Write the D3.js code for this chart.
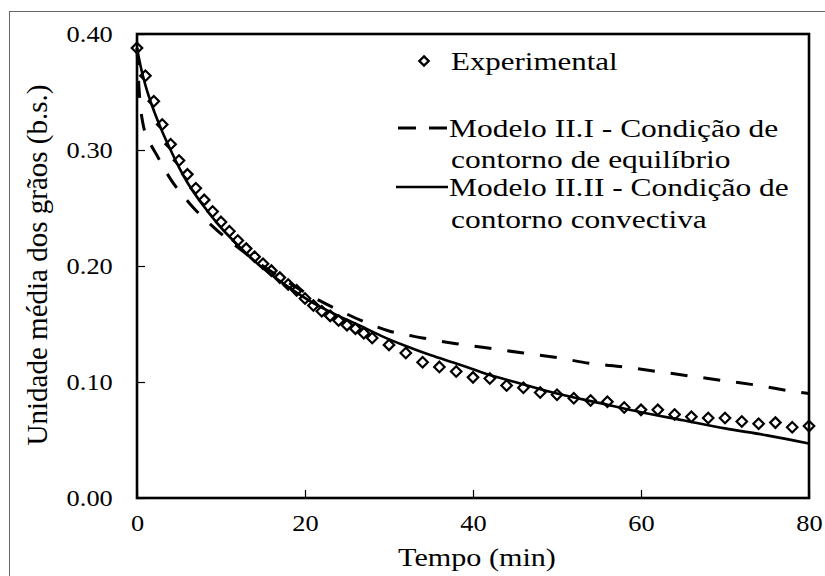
<!DOCTYPE html>
<html>
<head>
<meta charset="utf-8">
<script src="https://cdnjs.cloudflare.com/ajax/libs/d3/7.8.5/d3.min.js"></script>
<style>
  body { margin: 0; background: #fff; }
</style>
</head>
<body>
<div id="chart"></div>
<script>
// Experimental points (min, b.s.)
const expTime = [0, 1, 2, 3, 4, 5, 6, 7, 8, 9, 10, 11, 12, 13, 14, 15, 16, 17, 18, 19, 20,
  21, 22, 23, 24, 25, 26, 27, 28, 30, 32, 34, 36, 38, 40, 42, 44, 46, 48, 50, 52, 54, 56,
  58, 60, 62, 64, 66, 68, 70, 72, 74, 76, 78, 80];
const expMoisture = [0.388, 0.364, 0.342, 0.322, 0.305, 0.291, 0.279, 0.267, 0.257, 0.247,
  0.238, 0.230, 0.222, 0.215, 0.208, 0.202, 0.196, 0.190, 0.184, 0.179, 0.172, 0.166, 0.161,
  0.157, 0.153, 0.149, 0.146, 0.142, 0.138, 0.132, 0.125, 0.117, 0.113, 0.109, 0.104, 0.103,
  0.097, 0.095, 0.091, 0.089, 0.086, 0.084, 0.083, 0.078, 0.076, 0.076, 0.072, 0.070, 0.069,
  0.069, 0.066, 0.064, 0.065, 0.061, 0.062];

// Modelo II.I - equilibrium boundary condition
const m1Time = [0, 0.25, 0.7, 1.5, 2.4, 3.9, 6.5, 9.5, 12, 15, 18, 21, 24, 27, 30, 34, 38, 42,
  46, 50, 54, 58, 62, 66, 70, 74, 78, 80];
const m1Moisture = [0.388, 0.352, 0.323, 0.307, 0.295, 0.276, 0.252, 0.231, 0.216, 0.200,
  0.186, 0.173, 0.162, 0.152, 0.144, 0.138, 0.133, 0.129, 0.125, 0.121, 0.116, 0.113, 0.109,
  0.105, 0.101, 0.097, 0.092, 0.090];

// Modelo II.II - convective boundary condition
const m2Time = [0, 0.5, 1, 2, 3, 4, 5, 6, 8, 10, 12, 15, 18, 21, 24, 27, 29, 32, 35, 38, 40,
  42, 45, 50, 55, 60, 65, 70, 75, 80];
const m2Moisture = [0.388, 0.370, 0.356, 0.334, 0.316, 0.300, 0.285, 0.272, 0.251, 0.233,
  0.218, 0.198, 0.182, 0.168, 0.157, 0.147, 0.140, 0.131, 0.123, 0.116, 0.111, 0.106, 0.100,
  0.090, 0.082, 0.074, 0.067, 0.060, 0.054, 0.047];

const xTicks = [0, 20, 40, 60, 80];
const yTicks = [0, 0.1, 0.2, 0.3, 0.4];

const W = 825, H = 576;
const plot = { left: 137, right: 809, top: 34, bottom: 498 };
const FONT = '"Liberation Serif", "Times New Roman", Times, "DejaVu Serif", serif';

const svg = d3.select("#chart").append("svg")
  .attr("width", W)
  .attr("height", H)
  .style("font-family", FONT);

// outer frame of the figure
svg.append("rect")
  .attr("x", 9.5).attr("y", 11.5)
  .attr("width", W).attr("height", H)
  .attr("fill", "none")
  .attr("stroke", "#666")
  .attr("stroke-width", 1);

const x = d3.scaleLinear().domain([0, 80]).range([plot.left, plot.right]);
const y = d3.scaleLinear().domain([0, 0.4]).range([plot.bottom, plot.top]);

// axes with inward ticks; the source text is a bit wide, so stretch it
svg.append("g")
  .attr("transform", `translate(0,${plot.bottom})`)
  .call(d3.axisBottom(x).tickValues(xTicks).tickSizeInner(-8).tickSizeOuter(0).tickPadding(16))
  .call(g => g.attr("font-family", null).attr("font-size", null))
  .call(g => g.select(".domain").remove())
  .call(g => g.selectAll("line").attr("stroke", "#000").attr("stroke-width", 1.2))
  .call(g => g.selectAll("text").style("font-size", "24px").attr("dy", "0.71em")
    .attr("transform", "scale(1.1,1)"));

svg.append("g")
  .attr("transform", `translate(${plot.left},0)`)
  .call(d3.axisLeft(y).tickValues(yTicks).tickFormat(d3.format(".2f")).tickSizeInner(-8).tickSizeOuter(0).tickPadding(22))
  .call(g => g.attr("font-family", null).attr("font-size", null))
  .call(g => g.select(".domain").remove())
  .call(g => g.selectAll("line").attr("stroke", "#000").attr("stroke-width", 1.2))
  .call(g => g.selectAll("text").style("font-size", "24px").attr("transform", "scale(1.1,1)"));

svg.append("rect")
  .attr("x", plot.left).attr("y", plot.top)
  .attr("width", plot.right - plot.left).attr("height", plot.bottom - plot.top)
  .attr("fill", "none")
  .attr("stroke", "#000")
  .attr("stroke-width", 2.6);

const line = d3.line().x(d => x(d[0])).y(d => y(d[1])).curve(d3.curveMonotoneX);

svg.append("path")
  .datum(m1Time.map((t, i) => [t, m1Moisture[i]]))
  .attr("d", line)
  .attr("fill", "none")
  .attr("stroke", "#000")
  .attr("stroke-width", 3)
  .attr("stroke-dasharray", "17,16");

svg.append("path")
  .datum(m2Time.map((t, i) => [t, m2Moisture[i]]))
  .attr("d", line)
  .attr("fill", "none")
  .attr("stroke", "#000")
  .attr("stroke-width", 2.6);

const diamond = d3.symbol().type(d3.symbolDiamond2).size(70);

svg.append("g").selectAll("path")
  .data(expTime.map((t, i) => [t, expMoisture[i]]))
  .join("path")
  .attr("transform", d => `translate(${x(d[0])},${y(d[1])})`)
  .attr("d", diamond)
  .attr("fill", "none")
  .attr("stroke", "#000")
  .attr("stroke-width", 2.2);

function stretchedText(parent, tx, ty, sx, size, str, anchor) {
  return parent.append("text")
    .attr("transform", `translate(${tx},${ty}) scale(${sx},1)`)
    .attr("text-anchor", anchor || "start")
    .style("font-size", size + "px")
    .text(str);
}

// axis titles
stretchedText(svg, 477, 566, 1.16, 26, "Tempo (min)", "middle");

svg.append("text")
  .attr("transform", `translate(47,265) rotate(-90)`)
  .attr("text-anchor", "middle")
  .style("font-size", "29px")
  .text("Unidade média dos grãos (b.s.)");

// legend
const legend = svg.append("g");
legend.append("path")
  .attr("transform", "translate(424,61)")
  .attr("d", d3.symbol().type(d3.symbolDiamond2).size(55))
  .attr("fill", "none").attr("stroke", "#000").attr("stroke-width", 2.4);
stretchedText(legend, 451, 70, 1.19, 26, "Experimental");

legend.append("line")
  .attr("x1", 398).attr("x2", 448).attr("y1", 128).attr("y2", 128)
  .attr("stroke", "#000").attr("stroke-width", 3).attr("stroke-dasharray", "18,13");
stretchedText(legend, 449, 137, 1.21, 26, "Modelo II.I - Condição de");
stretchedText(legend, 451, 168, 1.21, 26, "contorno de equilíbrio");

legend.append("line")
  .attr("x1", 396).attr("x2", 448).attr("y1", 187).attr("y2", 187)
  .attr("stroke", "#000").attr("stroke-width", 2.6);
stretchedText(legend, 449, 196, 1.21, 26, "Modelo II.II - Condição de");
stretchedText(legend, 451, 228, 1.21, 26, "contorno convectiva");
</script>
</body>
</html>
